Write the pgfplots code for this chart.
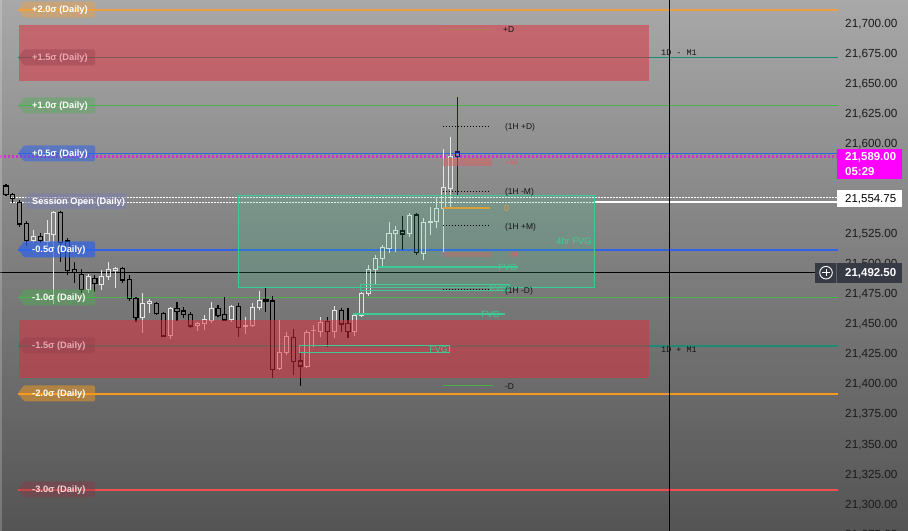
\documentclass[border=0pt]{standalone}
\usepackage{fontspec}
\setmainfont{Liberation Sans}
\newfontfamily\monof{Liberation Mono}
\usepackage{pgfplots}
\usepackage{pgfplotstable}
\pgfplotsset{compat=1.18}

\definecolor{bgtop}{HTML}{A8A8A8}
\definecolor{bgbot}{HTML}{545454}
\definecolor{orng}{HTML}{EDA040}
\definecolor{orng2}{HTML}{F59A1E}
\definecolor{grn}{HTML}{4CAF50}
\definecolor{blu}{HTML}{2F62E8}
\definecolor{teal1}{HTML}{1F8A74}
\definecolor{redl}{HTML}{F25050}
\definecolor{mag}{HTML}{D030D0}
\definecolor{fvgc}{HTML}{3DCB95}
\definecolor{zred}{HTML}{E52A3A}
\definecolor{navy}{HTML}{1B1B6B}
\definecolor{wcand}{HTML}{E6E6E6}
\definecolor{tickc}{HTML}{1C1C1C}
\definecolor{txtc}{HTML}{151515}
\definecolor{darkbox}{HTML}{363A45}
\definecolor{redtxt}{HTML}{E06060}
\definecolor{orgtxt}{HTML}{D9A13C}
\definecolor{tagred}{HTML}{8A3A48}
\definecolor{pinkt}{HTML}{F0A8B0}
\definecolor{pinkw}{HTML}{F6D6D6}
\definecolor{sesc}{HTML}{7A80A8}
\definecolor{pinkbox}{HTML}{FF00FF}

% candles: i = bar number, o h l c = open high low close
\pgfplotstableread{
i o h l c
5 21518.96 21527.86 21516.8 21522.29
7 21518.13 21536.18 21513.97 21524.54
8 21523.7 21543.91 21466.32 21542.25
13 21478.55 21491.27 21475.22 21489.03
15 21482.12 21494.6 21477.97 21489.03
16 21489.03 21501.5 21486.28 21494.6
17 21494.02 21496.84 21479.38 21495.68
21 21454.93 21475.22 21441.96 21466.91
22 21466.91 21470.23 21459.09 21468.24
25 21439.71 21464.08 21436.97 21462.75
29 21448.61 21451.6 21444.12 21449.69
30 21450.27 21457.18 21444.7 21453.02
31 21452.44 21468.24 21450.27 21462.75
34 21453.02 21465.49 21451.6 21464.08
36 21447.45 21455.76 21441.13 21448.61
37 21448.03 21467.4 21446.95 21463.58
38 21463.58 21477.38 21461.33 21469.07
41 21412.85 21453.02 21411.44 21425.99
42 21425.82 21443.29 21423.91 21439.13
45 21414.18 21444.7 21413.68 21442.79
46 21443.87 21448.86 21430.81 21444.45
47 21443.29 21455.26 21439.13 21451.11
49 21443.29 21464.66 21437.8 21460.75
52 21443.29 21458.01 21439.96 21456.59
53 21456.59 21476.55 21455.76 21474.64
54 21474.64 21498.76 21472.98 21494.6
55 21494.6 21507.07 21482.96 21504.33
56 21504.33 21515.39 21497.34 21513.48
57 21512.64 21534.27 21508.98 21524.54
58 21525.12 21531.19 21509.82 21527.03
60 21524.54 21542.25 21522.29 21539.5
62 21508.49 21537.59 21502.91 21534.27
63 21534.27 21547.24 21523.7 21534.76
64 21534.76 21555.55 21529.28 21545.91
65 21545.91 21594.97 21509.82 21563.37
66 21562.54 21604.95 21546.74 21588.82
}\wtab
\pgfplotstableread{
i o h l c
1 21564.45 21566.12 21556.14 21557.38
2 21557.22 21558.63 21550.32 21553.89
3 21550.56 21552.81 21530.36 21532.85
4 21533.43 21535.35 21514.81 21518.96
6 21522.29 21525.62 21516.8 21518.96
9 21542.25 21543.91 21501.5 21517.63
10 21518.71 21521.21 21490.44 21494.02
11 21495.18 21501.5 21483.54 21492.35
12 21491.02 21495.43 21475.22 21478.55
14 21487.36 21490.44 21476.55 21483.54
18 21495.68 21496.84 21483.54 21486.28
19 21486.86 21490.44 21469.07 21471.06
20 21471.06 21472.39 21451.6 21454.93
23 21466.91 21468.24 21457.18 21458.59
24 21458.59 21459.92 21438.63 21439.71
26 21462.75 21468.24 21452.44 21459.92
27 21460.5 21463.58 21454.43 21457.76
28 21457.76 21459.92 21446.11 21448.03
32 21462.75 21465.49 21455.26 21456.59
33 21457.76 21471.9 21452.44 21453.02
35 21464.08 21467.4 21438.63 21446.95
39 21469.65 21480.46 21459.92 21468.82
40 21468.82 21472.56 21404.54 21412.02
43 21438.63 21445.28 21407.28 21418.34
44 21418.92 21425.33 21398.13 21414.76
48 21451.6 21455.26 21430.32 21443.29
50 21460.75 21463.25 21443.29 21449.69
51 21450.27 21462.75 21437.8 21443.29
59 21527.03 21539.5 21511.23 21524.54
61 21540.34 21542.25 21507.07 21508.98
}\btab
\pgfplotstableread{
i o h l c
67 21592.73 21638.71 21556.97 21589
}\ctab

\newcommand{\fs}[1]{\fontsize{#1}{#1}\selectfont}
\pgfplotsset{
  ebase/.style 2 args={draw=none, mark=none, forget plot,
    error bars/error mark=none,
    error bars/error mark options={draw=none, fill=none, mark size=0pt},
    error bars/error bar style={draw=#1, line width=#2, solid}},
}
% #1 table, #2 top-of-body column, #3 bottom-of-body column, #4 colour, #5 line width
\newcommand{\candleset}[5]{%
\addplot[ebase={#4}{#5}, error bars/y dir=plus, error bars/y explicit, error bars/error bar style={line cap=butt}] table[x=i, y=#2, y error plus expr=\thisrow{h}-\thisrow{#2}] {#1};
\addplot[ebase={#4}{#5}, error bars/y dir=minus, error bars/y explicit, error bars/error bar style={line cap=butt}] table[x=i, y=#3, y error minus expr=\thisrow{#3}-\thisrow{l}] {#1};
\addplot[ebase={#4}{#5}, error bars/y dir=plus, error bars/y explicit, error bars/error bar style={line cap=rect}] table[x expr=\thisrow{i}-0.3, y=#3, y error plus expr=\thisrow{#2}-\thisrow{#3}] {#1};
\addplot[ebase={#4}{#5}, error bars/y dir=plus, error bars/y explicit, error bars/error bar style={line cap=rect}] table[x expr=\thisrow{i}+0.3, y=#3, y error plus expr=\thisrow{#2}-\thisrow{#3}] {#1};
\addplot[ebase={#4}{#5}, error bars/x dir=both, error bars/x fixed=0.3, error bars/error bar style={line cap=rect}] table[x=i, y=#2] {#1};
\addplot[ebase={#4}{#5}, error bars/x dir=both, error bars/x fixed=0.3, error bars/error bar style={line cap=rect}] table[x=i, y=#3] {#1};
}
\newcommand{\hl}[4]{\addplot[#1] coordinates {(#2,#4) (#3,#4)};}
\newcommand{\sigtag}[7]{%
  \fill[#4, fill opacity=#5, rounded corners=1.5bp] (#2,#1) -- (#2+6,#1-8) -- (#3,#1-8) -- (#3,#1+8) -- (#2+6,#1+8) -- cycle;
  \node[anchor=west, inner sep=0pt, text=#6, font=\bfseries\fs{9.3}, text height=6.7pt, text depth=0pt] at (32,#1) {#7};}

\tikzset{
  ann/.style={anchor=west, inner sep=0pt, font=\fs{8.5}, text=txtc, text height=6.1pt, text depth=0pt},
  fvgl/.style={anchor=east, inner sep=0pt, font=\fs{9}, text=fvgc, text height=6.5pt, text depth=0pt},
  axl/.style={anchor=west, inner sep=0pt, font=\fs{11.5}, text height=8.2pt, text depth=0pt},
}

\begin{document}
\begin{tikzpicture}[x=1bp,y=1bp]
\useasboundingbox (0,0) rectangle (908,531);
\clip (0,0) rectangle (908,531);
\shade[top color=bgtop, bottom color=bgbot] (0,0) rectangle (908,531);
\begin{axis}[at={(0,0)}, anchor=south west, scale only axis,
  width=838bp, height=531bp,
  xmin=0.123, xmax=122.64, ymin=21277.55, ymax=21719.13,
  axis line style={draw=none}, tick style={draw=none}, major tick length=0pt,
  xtick=\empty,
  ytick={21300,21325,21350,21375,21400,21425,21450,21475,21500,21525,21600,21625,21650,21675,21700},
  scaled y ticks=false,
  yticklabel pos=right,
  /pgf/number format/assume math mode=true,
  yticklabel={\pgfmathprintnumber[fixed,fixed zerofill,precision=2,1000 sep={,}]{\tick}},
  yticklabel style={anchor=west, inner sep=0pt, xshift=7bp, font=\fs{11.8}, text=tickc, text height=8.4pt, text depth=0pt},
  clip mode=individual,
]
% level lines
\hl{draw=orng, line width=1.8bp}{2.754}{122.64}{21711.1}
\hl{draw=teal1, line width=1.8bp}{2.754}{122.64}{21671.35}
\hl{draw=grn, line width=1.6bp}{2.754}{122.64}{21631.4}
\hl{draw=blu, line width=1.9bp}{2.754}{122.64}{21591.45}
\hl{draw=mag, line width=2.2bp, dash pattern=on 2bp off 2bp}{0.123}{122.64}{21589}
\hl{draw=white, line width=1.2bp, dash pattern=on 1.5bp off 1.5bp}{1.585}{122.64}{21554.75}
\hl{draw=white, line width=1.2bp, dash pattern=on 1.5bp off 1.5bp}{1.585}{122.64}{21550.5}
\hl{draw=white, line width=2bp}{86.96}{122.64}{21551.5}
\hl{draw=blu, line width=1.9bp}{2.754}{122.64}{21511.55}
\hl{draw=black, line width=1bp}{0.123}{122.64}{21492.5}
\hl{draw=grn, line width=1.6bp}{2.754}{122.64}{21471.6}
\hl{draw=teal1, line width=1.8bp}{2.754}{122.64}{21431.65}
\hl{draw=orng2, line width=1.8bp}{2.754}{122.64}{21391.7}
\hl{draw=redl, line width=1.8bp}{2.754}{122.64}{21311.8}
\addplot[black, line width=1bp] coordinates {(97.93,21277.55) (97.93,21719.13)};
% candles
\candleset{\wtab}{c}{o}{wcand}{1bp}
\candleset{\btab}{o}{c}{black}{1.1bp}
\candleset{\ctab}{o}{c}{navy}{1.2bp}
% zones
\fill[zred, fill opacity=0.5] (axis cs:2.901,21698.34) rectangle (axis cs:95.01,21651.77);
\fill[zred, fill opacity=0.5] (axis cs:2.901,21453.02) rectangle (axis cs:95.01,21404.78);
% 4hr FVG
\filldraw[draw=fvgc, fill=fvgc, fill opacity=0.18, line width=0.8bp] (axis cs:34.92,21556.97) rectangle (axis cs:86.96,21480.46);
\node[fvgl, font=\fs{9.5}] at (axis cs:86.67,21518.72) {4hr FVG};
\hl{draw=fvgc, line width=2bp}{55.39}{75.85}{21496.68}
\draw[fvgc, line width=1bp] (axis cs:52.90,21482.12) rectangle (axis cs:74.68,21477.13);
\hl{draw=fvgc, line width=2bp}{51.73}{73.95}{21458.01}
\draw[fvgc, line width=1bp] (axis cs:43.98,21431.39) rectangle (axis cs:65.91,21425.57);
\node[fvgl] at (axis cs:75.71,21496.68) {FVG};
\node[fvgl] at (axis cs:74.39,21479.6) {FVG};
\node[fvgl] at (axis cs:73.22,21458.01) {FVG};
\node[fvgl] at (axis cs:65.62,21428.48) {FVG};
% level annotations
\hl{draw=brown!70!gray, line width=1bp}{64.89}{72.2}{21694.6}
\hl{draw=black, line width=1bp, dash pattern=on 1bp off 2bp}{64.89}{71.76}{21613.93}
\fill[redtxt, fill opacity=0.5] (axis cs:64.89,21587.74) rectangle (axis cs:72.05,21581.08);
\hl{draw=black, line width=1bp, dash pattern=on 1bp off 2bp}{64.89}{71.76}{21560.04}
\hl{draw=orgtxt, line width=2.5bp}{64.89}{71.76}{21546.16}
\hl{draw=black, line width=1bp, dash pattern=on 1bp off 2bp}{64.89}{71.76}{21531.19}
\fill[redtxt, fill opacity=0.35] (axis cs:64.89,21509.57) rectangle (axis cs:72.05,21505.41);
\hl{draw=black, line width=1bp, dash pattern=on 1bp off 2bp}{64.89}{71.76}{21477.97}
\hl{draw=green!40!gray, line width=1bp}{64.89}{72.2}{21398.13}
\node[ann] at (axis cs:73.66,21694.6) {+D};
\node[ann] at (axis cs:73.95,21613.93) {(1H +D)};
\node[ann, text=redtxt] at (axis cs:73.95,21584.41) {+M};
\node[ann] at (axis cs:73.95,21560.04) {(1H -M)};
\node[ann, text=orgtxt, font=\fs{9}] at (axis cs:73.8,21546.16) {0};
\node[ann] at (axis cs:73.95,21531.19) {(1H +M)};
\node[ann, text=redtxt] at (axis cs:74.3,21507.49) {-M};
\node[ann] at (axis cs:73.95,21477.97) {(1H -D)};
\node[ann] at (axis cs:73.95,21398.13) {-D};
\node[ann, font=\monof\fs{8.5}] at (axis cs:96.76,21675.9) {1D - M1};
\node[ann, font=\monof\fs{8.5}] at (axis cs:96.76,21428.9) {1D + M1};
\end{axis}
\begin{scope}[yshift=531bp, x=1bp, y=-1bp]
\fill[white, opacity=0.2] (0,0) rectangle (2,531);
\sigtag{9.65}{18}{95}{orng}{0.45}{white}{+2.0σ (Daily)}
\sigtag{57.5}{18}{95}{tagred}{0.35}{pinkt}{+1.5σ (Daily)}
\sigtag{105.4}{18}{95}{grn}{0.4}{white}{+1.0σ (Daily)}
\sigtag{153.4}{18}{95}{blu}{0.55}{white}{+0.5σ (Daily)}
\sigtag{201.4}{23}{126}{sesc}{0.6}{white}{Session Open (Daily)}
\sigtag{249.4}{18}{95}{blu}{0.7}{white}{-0.5σ (Daily)}
\sigtag{297.4}{18}{95}{grn}{0.45}{white}{-1.0σ (Daily)}
\sigtag{345.3}{18}{95}{tagred}{0.3}{pinkt}{-1.5σ (Daily)}
\sigtag{393.3}{18}{95}{orng2}{0.5}{white}{-2.0σ (Daily)}
\sigtag{489.3}{18}{95}{tagred}{0.45}{pinkw}{-3.0σ (Daily)}
% price scale boxes
\node[axl, text=tickc, font=\fs{11.8}, text height=8.4pt] at (845,534) {21,275.00};
\fill[pinkbox] (837,149) rectangle (902,179.5);
\node[axl, text=white, font=\bfseries\fs{11.5}] at (845,156.5) {21,589.00};
\node[axl, text=white, font=\bfseries\fs{11.5}] at (845,171.5) {05:29};
\fill[white] (837,190) rectangle (902,207.3);
\node[axl, text=black] at (845,198.6) {21,554.75};
\fill[darkbox] (815,262.7) rectangle (902,282.7);
\draw[gray!60!darkbox] (836.5,262.7) -- (836.5,282.7);
\draw[white, line width=0.9bp] (826,272.7) circle (6.3);
\draw[white, line width=0.9bp] (822.3,272.7) -- (829.7,272.7) (826,269) -- (826,276.4);
\node[axl, text=white, font=\bfseries\fs{11.5}] at (845,272.7) {21,492.50};
\end{scope}
\end{tikzpicture}
\end{document}
